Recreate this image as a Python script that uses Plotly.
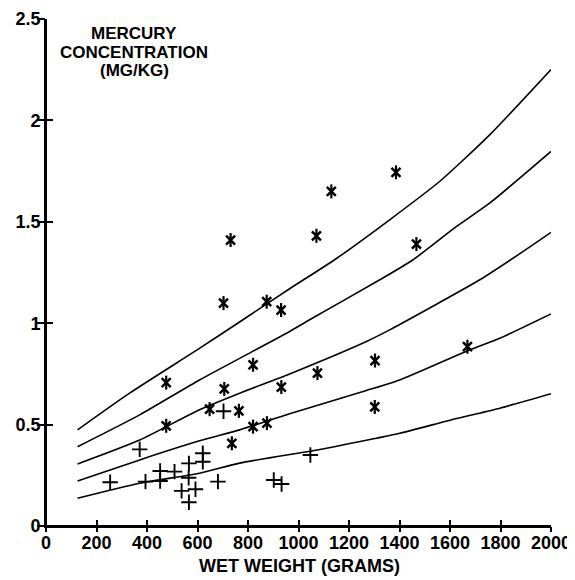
import plotly.graph_objects as go

# Observed fish: larger group (asterisks)
star_weight = [731, 1130, 1386, 1071, 1467, 703, 874, 931, 1669, 820, 1303, 706,
               1075, 932, 648, 764, 1302, 820, 875, 736, 476, 476]
star_hg = [1.41, 1.65, 1.744, 1.431, 1.39, 1.099, 1.106, 1.065, 0.884, 0.795, 0.816, 0.676,
           0.754, 0.685, 0.576, 0.568, 0.587, 0.49, 0.507, 0.408, 0.707, 0.494]

# Observed fish: smaller group (crosses)
cross_weight = [371, 254, 394, 452, 452, 509, 566, 565, 537, 592, 566, 621, 621,
                681, 703, 902, 933, 1047]
cross_hg = [0.378, 0.216, 0.219, 0.271, 0.222, 0.268, 0.309, 0.238, 0.173, 0.181, 0.117,
            0.359, 0.317, 0.219, 0.566, 0.227, 0.207, 0.35]

# Model curves
c1_x = [125, 331, 609, 780, 965, 1143, 1361, 1560, 1758, 2000]
c1_y = [0.474, 0.655, 0.877, 1.017, 1.17, 1.313, 1.51, 1.70, 1.93, 2.251]
c2_x = [125, 371, 608, 965, 1044, 1322, 1454, 1626, 1758, 2000]
c2_y = [0.391, 0.548, 0.72, 0.959, 1.017, 1.214, 1.313, 1.477, 1.593, 1.847]
c3_x = [125, 371, 608, 767, 965, 1269, 1361, 1718, 1890, 2000]
c3_y = [0.306, 0.424, 0.573, 0.655, 0.75, 0.91, 0.967, 1.214, 1.354, 1.448]
c4_x = [125, 371, 608, 767, 965, 1269, 1401, 1679, 1797, 2000]
c4_y = [0.222, 0.326, 0.42, 0.474, 0.553, 0.668, 0.72, 0.869, 0.926, 1.046]
c5_x = [125, 371, 608, 767, 1097, 1309, 1401, 1626, 1797, 2000]
c5_y = [0.137, 0.211, 0.26, 0.31, 0.38, 0.433, 0.457, 0.53, 0.581, 0.652]

x_ticks = [0, 200, 400, 600, 800, 1000, 1200, 1400, 1600, 1800, 2000]
y_ticks = [0, 0.5, 1, 1.5, 2, 2.5]
y_tick_text = ["0", "0.5", "1", "1.5", "2", "2.5"]

FONT = "Liberation Sans"
W, H = 567, 572
ML, MR, MT, MB = 38, 24, 11, 54
OFF = 8  # page body margin

fig = go.Figure()

line_style = dict(color="black", width=1.6, shape="spline", smoothing=0.6)
curves = [(c1_x, c1_y), (c2_x, c2_y), (c3_x, c3_y), (c4_x, c4_y), (c5_x, c5_y)]
axis_pairs = [("x2", "y2"), ("x", "y"), ("x", "y"), ("x", "y"), ("x", "y")]
for (cx, cy), (xa, ya) in zip(curves, axis_pairs):
    fig.add_trace(go.Scatter(x=cx, y=cy, mode="lines", line=line_style,
                             xaxis=xa, yaxis=ya, showlegend=False, hoverinfo="skip"))

# asterisks built from an X and a vertical bar (6 arms)
fig.add_trace(go.Scatter(x=star_weight, y=star_hg, mode="markers",
                         marker=dict(symbol="x-thin-open", size=9, color="black",
                                     line=dict(color="black", width=2.5)),
                         showlegend=False))
fig.add_trace(go.Scatter(x=star_weight, y=star_hg, mode="markers",
                         marker=dict(symbol="line-ns-open", size=10, color="black",
                                     line=dict(color="black", width=2.2)),
                         showlegend=False))
fig.add_trace(go.Scatter(x=cross_weight, y=cross_hg, mode="markers",
                         marker=dict(symbol="cross-thin-open", size=11, color="black",
                                     line=dict(color="black", width=1.9)),
                         showlegend=False))

tickfont = dict(family=FONT, size=18, color="black", weight="bold")
common = dict(showgrid=False, zeroline=False, showline=True, linecolor="black",
              linewidth=1.6, tickcolor="black", tickwidth=1.6)

pw, ph = W - ML - MR, H - MT - MB
def px_to_paper(wx, wy):
    fx, fy = wx - OFF, wy - OFF
    return (fx - ML) / pw, (H - MB - fy) / ph

annots = []
for txt, wx, wy in [("MERCURY", 134, 33), ("CONCENTRATION", 134, 52), ("(MG/KG)", 134, 71)]:
    ax, ay = px_to_paper(wx, wy)
    annots.append(dict(text=txt, x=ax, y=ay, xref="paper", yref="paper",
                       showarrow=False, xanchor="center", yanchor="middle",
                       font=dict(family=FONT, size=17, color="black", weight="bold")))
bx, by = px_to_paper(299, 566)
annots.append(dict(text="WET WEIGHT (GRAMS)", x=bx, y=by, xref="paper", yref="paper",
                   showarrow=False, xanchor="center", yanchor="middle",
                   font=dict(family=FONT, size=18, color="black", weight="bold")))

fig.update_layout(
    width=W, height=H,
    margin=dict(l=ML, r=MR, t=MT, b=MB, autoexpand=False),
    paper_bgcolor="white", plot_bgcolor="white",
    # primary axes carry the labels and the inward half of each tick
    xaxis=dict(range=[0, 2000], tickmode="array", tickvals=x_ticks,
               ticks="inside", ticklen=6, tickfont=tickfont,
               automargin=False, **common),
    yaxis=dict(range=[0, 2.5], tickmode="array", tickvals=y_ticks,
               ticktext=y_tick_text, ticks="inside", ticklen=7,
               tickfont=tickfont, automargin=False, **common),
    # outward half of each tick
    xaxis2=dict(range=[0, 2000], overlaying="x", anchor="free", position=0,
                side="bottom", tickmode="array", tickvals=x_ticks, ticks="outside",
                ticklen=5, showticklabels=False, **common),
    yaxis2=dict(range=[0, 2.5], overlaying="y", anchor="free", position=0,
                side="left", tickmode="array", tickvals=y_ticks, ticks="outside",
                ticklen=8, showticklabels=False, **common),
    annotations=annots,
    font=dict(family=FONT),
)
fig.write_html("out.html")
